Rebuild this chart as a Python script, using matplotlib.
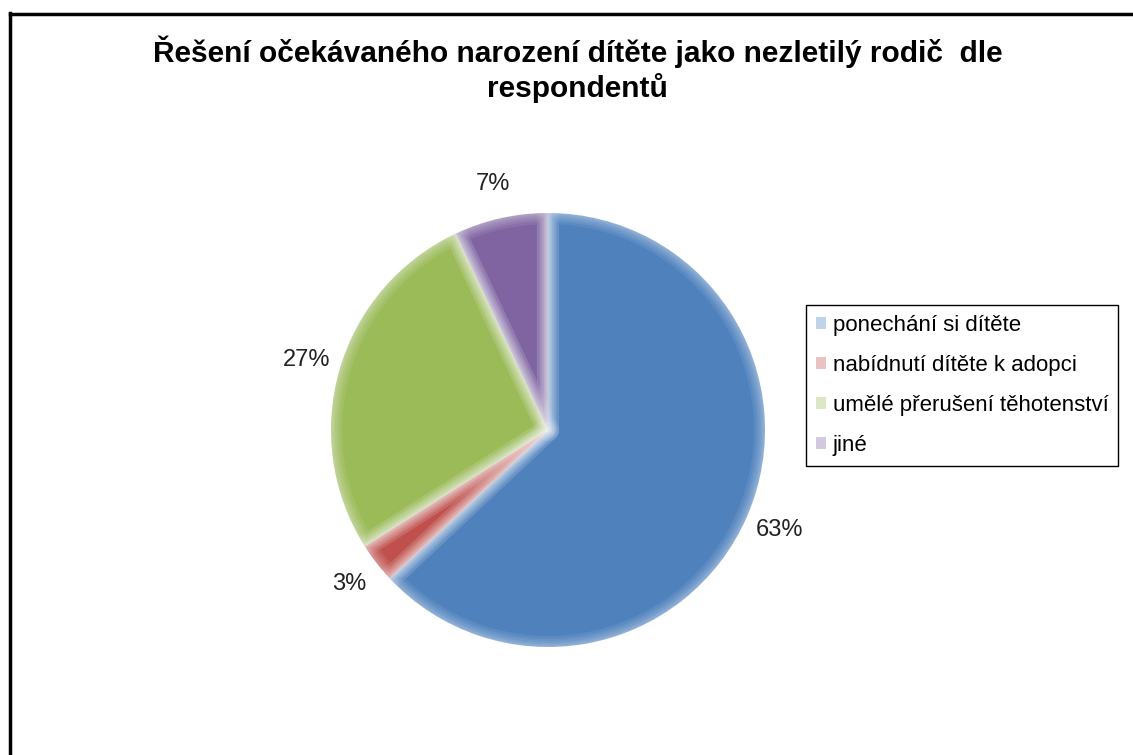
import matplotlib
matplotlib.use("Agg")
import matplotlib.pyplot as plt
from matplotlib.lines import Line2D
from matplotlib.colors import to_rgb

plt.rcParams['font.family'] = ['Liberation Sans', 'DejaVu Sans']

# data
categories = ["ponechání si dítěte", "nabídnutí dítěte k adopci",
              "umělé přerušení těhotenství", "jiné"]
shares = [63, 3, 27, 7]
title = "Řešení očekávaného narození dítěte jako nezletilý rodič  dle\nrespondentů"

colors = ['#4F81BD', '#C0504D', '#9BBB59', '#8064A2']


def lighten(c, f=0.7):
    r, g, b = to_rgb(c)
    return (r + (1 - r) * f, g + (1 - g) * f, b + (1 - b) * f)


fig = plt.figure(figsize=(11.33, 7.55), dpi=100)

# outer frame (only top and left visible, rest cut off)
fig.add_artist(Line2D([9.5 / 1133, 1.0], [1 - 14 / 755, 1 - 14 / 755],
                      transform=fig.transFigure, color='black', lw=2.5))
fig.add_artist(Line2D([10.5 / 1133, 10.5 / 1133], [0.0, 1 - 13 / 755],
                      transform=fig.transFigure, color='black', lw=2.5))

ax = fig.add_axes([331 / 1133, 108 / 755, 434 / 1133, 434 / 755])
wedges, texts, autotexts = ax.pie(
    shares, colors=colors, startangle=90, counterclock=False,
    autopct='%d%%', pctdistance=1.16,
    wedgeprops=dict(linewidth=0),
    textprops=dict(fontsize=17, color='#222222'))

# soft light edges on the wedges (gradient look)
for lw in [16, 12, 9, 6, 4, 2]:
    ax.pie(shares, colors=['none'] * len(shares), startangle=90,
           counterclock=False,
           wedgeprops=dict(edgecolor=(1, 1, 1, 0.08), linewidth=lw,
                           joinstyle='round'))

ax.set_aspect('equal')
ax.set_xlim(-1, 1)
ax.set_ylim(-1, 1)

fig.text(0.510, 1 - 69 / 755, title, ha='center', va='center',
         fontsize=21.5, fontweight='bold', linespacing=1.2)

leg = fig.legend(wedges, categories, loc='upper left',
                 bbox_to_anchor=(806 / 1133, 1 - 305 / 755),
                 fontsize=16, frameon=True, fancybox=False,
                 edgecolor='black', framealpha=1, borderpad=0.45,
                 handlelength=0.45, handleheight=0.45, handletextpad=0.3,
                 labelspacing=0.85, borderaxespad=0)
leg.get_frame().set_linewidth(1)
for h, c in zip(leg.legend_handles, colors):
    h.set_facecolor(lighten(c, 0.65))
    h.set_edgecolor('none')
    h.set_linewidth(0)

fig.savefig("out.png", dpi=100)
